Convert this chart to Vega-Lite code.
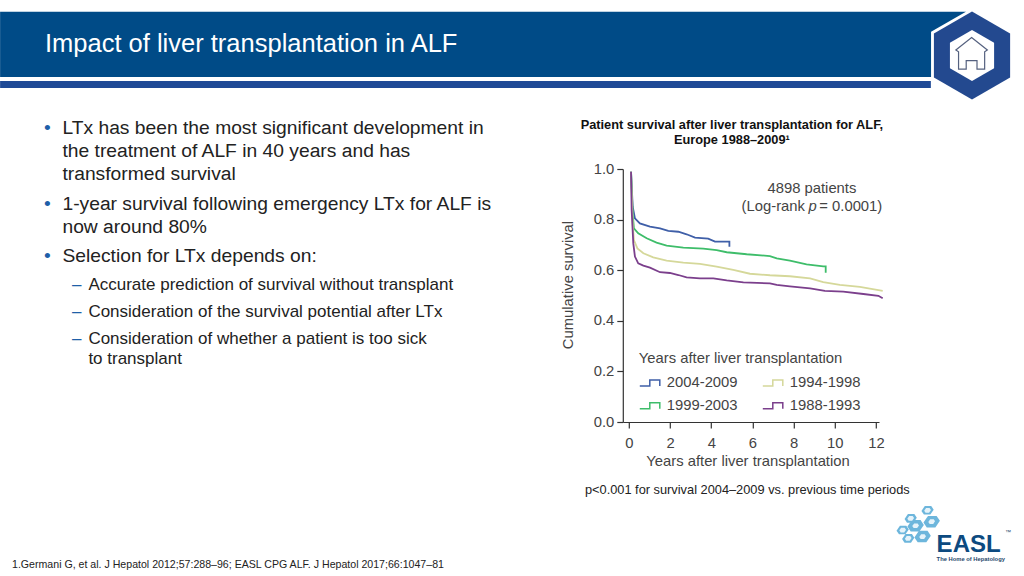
{
"$schema":"https://vega.github.io/schema/vega-lite/v6.json",
"width":256.2,"height":253,
"autosize":"none",
"padding":{"left":622.8,"top":169,"right":145,"bottom":154},
"background":"white",
"config":{"view":{"stroke":null},"font":"Liberation Sans","text":{"font":"Liberation Sans"},
"axis":{"grid":false,"domainColor":"#333333","tickColor":"#333333","labelColor":"#444444","titleColor":"#444444","labelFontSize":14.8,"titleFontSize":14.8,"titleFontWeight":"normal","tickSize":6,"domainWidth":1.2,"tickWidth":1.2,"labelFont":"Liberation Sans","titleFont":"Liberation Sans"}},
"encoding":{
"x":{"field":"year","type":"quantitative","scale":{"domain":[-0.3,12.15],"nice":false,"zero":false},"axis":{"title":"Years after liver transplantation","values":[0,2,4,6,8,10,12],"format":"d","labelPadding":7,"titlePadding":4,"titleX":124.7,"labelOverlap":false,"labelFlush":false}},
"y":{"field":"survival","type":"quantitative","scale":{"domain":[0,1],"nice":false},"axis":{"title":"Cumulative survival","values":[0,0.2,0.4,0.6,0.8,1],"format":".1f","labelPadding":3,"titlePadding":18,"titleY":115.5,"labelOverlap":false}}
},
"layer":[
{"data":{"values":[{"year":-30.56,"year2":16.37,"survival":1.6217,"survival2":1.3636}]},"mark":{"type":"rect","fill":"#004b87"},"encoding":{"x2":{"field":"year2"},"y2":{"field":"survival2"}}},
{"data":{"values":[{"year":-30.56,"year2":14.67,"survival":1.3478,"survival2":1.3202}]},"mark":{"type":"rect","fill":"#1f4a96"},"encoding":{"x2":{"field":"year2"},"y2":{"field":"survival2"}}},
{"data":{"values":[{"year":16.67,"survival":1.4486}]},"mark":{"type":"point","filled":true,"fill":"white","opacity":1,"size":8949,"shape":"M0,-1L.866,-.5L.866,.5L0,1L-.866,.5L-.866,-.5Z"}},
{"data":{"values":[{"year":16.67,"survival":1.4486}]},"mark":{"type":"point","filled":true,"fill":"#23498f","opacity":1,"size":7744,"shape":"M0,-1L.866,-.5L.866,.5L0,1L-.866,.5L-.866,-.5Z"}},
{"data":{"values":[{"year":16.67,"survival":1.4486}]},"mark":{"type":"point","filled":true,"fill":"white","opacity":1,"size":2601,"shape":"M0,-1L.866,-.5L.866,.5L0,1L-.866,.5L-.866,-.5Z"}},
{"data":{"values":[{"year":16.65,"survival":1.4573}]},"mark":{"type":"point","filled":false,"stroke":"#55617f","strokeWidth":1.2,"opacity":1,"size":900,"shape":"M0,-1.05L1.05,-.22L.87,-.1V1.05H.36V.49H-.36V1.05H-.87V-.1L-1.05,-.22Z"}},
{"data":{"values":[
{"year":-28.38,"survival":1.4644,"label":"Impact of liver transplantation in ALF"}
]},"mark":{"type":"text","align":"left","baseline":"alphabetic","fontSize":25.5,"fill":"white"},"encoding":{"text":{"field":"label"}}},
{"data":{"values":[
{"year":-27.53,"survival":1.1383,"label":"LTx has been the most significant development in"},
{"year":-27.53,"survival":1.0474,"label":"the treatment of ALF in 40 years and has"},
{"year":-27.53,"survival":0.9565,"label":"transformed survival"},
{"year":-27.53,"survival":0.8379,"label":"1-year survival following emergency LTx for ALF is"},
{"year":-27.53,"survival":0.7470,"label":"now around 80%"},
{"year":-27.53,"survival":0.6324,"label":"Selection for LTx depends on:"}
]},"mark":{"type":"text","align":"left","baseline":"alphabetic","fontSize":19.25,"fill":"#222222"},"encoding":{"text":{"field":"label"}}},
{"data":{"values":[
{"year":-28.43,"survival":1.1383,"label":"•"},
{"year":-28.43,"survival":0.8379,"label":"•"},
{"year":-28.43,"survival":0.6324,"label":"•"}
]},"mark":{"type":"text","align":"left","baseline":"alphabetic","fontSize":19.25,"fill":"#1f5fa8"},"encoding":{"text":{"field":"label"}}},
{"data":{"values":[
{"year":-26.27,"survival":0.5217,"label":"Accurate prediction of survival without transplant"},
{"year":-26.27,"survival":0.4150,"label":"Consideration of the survival potential after LTx"},
{"year":-26.27,"survival":0.3083,"label":"Consideration of whether a patient is too sick"},
{"year":-26.27,"survival":0.2292,"label":"to transplant"}
]},"mark":{"type":"text","align":"left","baseline":"alphabetic","fontSize":17,"fill":"#222222"},"encoding":{"text":{"field":"label"}}},
{"data":{"values":[
{"year":-27.06,"survival":0.5217,"label":"–"},
{"year":-27.06,"survival":0.4150,"label":"–"},
{"year":-27.06,"survival":0.3083,"label":"–"}
]},"mark":{"type":"text","align":"left","baseline":"alphabetic","fontSize":17,"fill":"#1f5fa8"},"encoding":{"text":{"field":"label"}}},
{"data":{"values":[
{"year":5.0,"survival":1.1581,"label":"Patient survival after liver transplantation for ALF,"},
{"year":5.0,"survival":1.0988,"label":"Europe 1988–2009¹"}
]},"mark":{"type":"text","align":"center","baseline":"alphabetic","fontSize":12.8,"fontWeight":"bold","fill":"#111111"},"encoding":{"text":{"field":"label"}}},
{"data":{"values":[
{"year":-2.14,"survival":-0.2846,"label":"p<0.001 for survival 2004–2009 vs. previous time periods"}
]},"mark":{"type":"text","align":"left","baseline":"alphabetic","fontSize":12.8,"fill":"#222222"},"encoding":{"text":{"field":"label"}}},
{"data":{"values":[
{"year":-29.98,"survival":-0.5771,"label":"1.Germani G, et al. J Hepatol 2012;57:288–96; EASL CPG ALF. J Hepatol 2017;66:1047–81"}
]},"mark":{"type":"text","align":"left","baseline":"alphabetic","fontSize":10.6,"fill":"#222222"},"encoding":{"text":{"field":"label"}}},
{"data":{"values":[
{"year":8.89,"survival":0.905,"label":"4898 patients"}
]},"mark":{"type":"text","align":"center","baseline":"alphabetic","fontSize":14.8,"fill":"#444444"},"encoding":{"text":{"field":"label"}}},
{"data":{"values":[
{"year":8.55,"survival":0.834,"label":"(Log-rank"}
]},"mark":{"type":"text","align":"right","baseline":"alphabetic","fontSize":14.8,"fill":"#444444"},"encoding":{"text":{"field":"label"}}},
{"data":{"values":[
{"year":8.72,"survival":0.834,"label":"p"}
]},"mark":{"type":"text","align":"left","baseline":"alphabetic","fontSize":14.8,"fontStyle":"italic","fill":"#444444"},"encoding":{"text":{"field":"label"}}},
{"data":{"values":[
{"year":9.25,"survival":0.834,"label":"= 0.0001)"}
]},"mark":{"type":"text","align":"left","baseline":"alphabetic","fontSize":14.8,"fill":"#444444"},"encoding":{"text":{"field":"label"}}},
{"data":{"values":[
{"year":14.51,"survival":-0.349,"kind":"small"},{"year":13.69,"survival":-0.381,"kind":"small"},{"year":14.71,"survival":-0.394,"kind":"big"},{"year":13.93,"survival":-0.410,"kind":"big"},{"year":13.30,"survival":-0.427,"kind":"small"},{"year":14.27,"survival":-0.453,"kind":"big"},{"year":13.57,"survival":-0.460,"kind":"small"}
]},"mark":{"type":"point","filled":true,"fill":"#6db6dc","opacity":1,"shape":"M-1,.1L-.45,-.7L.6,-.7L1,-.1L.45,.7L-.6,.7Z"},"encoding":{"size":{"field":"kind","type":"nominal","scale":{"domain":["big","small"],"range":[270,150]},"legend":null}}},
{"data":{"values":[
{"year":14.51,"survival":-0.349},{"year":13.69,"survival":-0.381},{"year":14.71,"survival":-0.394},{"year":13.93,"survival":-0.410},{"year":13.30,"survival":-0.427},{"year":14.27,"survival":-0.453},{"year":13.57,"survival":-0.460}
]},"mark":{"type":"point","filled":true,"fill":"#e6f3fa","opacity":1,"size":45,"shape":"M-1,.1L-.45,-.7L.6,-.7L1,-.1L.45,.7L-.6,.7Z"}},
{"data":{"values":[
{"year":14.95,"survival":-0.5138,"label":"EASL"}
]},"mark":{"type":"text","align":"left","baseline":"alphabetic","fontSize":24,"fontWeight":"bold","fill":"#0d4a80"},"encoding":{"text":{"field":"label"}}},
{"data":{"values":[
{"year":14.95,"survival":-0.548,"label":"The Home of Hepatology"}
]},"mark":{"type":"text","align":"left","baseline":"alphabetic","fontSize":5.8,"fontWeight":"bold","fill":"#27496d"},"encoding":{"text":{"field":"label"}}},
{"data":{"values":[
{"year":18.27,"survival":-0.4427,"label":"™"}
]},"mark":{"type":"text","align":"left","baseline":"alphabetic","fontSize":6,"fill":"#27496d"},"encoding":{"text":{"field":"label"}}},
{"data":{"values":[
{"period":"2004-2009","year":0.10,"survival":0.989},{"period":"2004-2009","year":0.18,"survival":0.851},{"period":"2004-2009","year":0.29,"survival":0.805},{"period":"2004-2009","year":0.53,"survival":0.785},{"period":"2004-2009","year":1.02,"survival":0.772},{"period":"2004-2009","year":1.51,"survival":0.765},{"period":"2004-2009","year":1.91,"survival":0.755},{"period":"2004-2009","year":2.40,"survival":0.752},{"period":"2004-2009","year":2.80,"survival":0.742},{"period":"2004-2009","year":3.21,"survival":0.729},{"period":"2004-2009","year":3.85,"survival":0.725},{"period":"2004-2009","year":4.18,"survival":0.713},{"period":"2004-2009","year":4.88,"survival":0.713},{"period":"2004-2009","year":4.88,"survival":0.693},
{"period":"1999-2003","year":0.10,"survival":0.989},{"period":"1999-2003","year":0.18,"survival":0.825},{"period":"1999-2003","year":0.24,"survival":0.765},{"period":"1999-2003","year":0.45,"survival":0.746},{"period":"1999-2003","year":0.86,"survival":0.726},{"period":"1999-2003","year":1.34,"survival":0.709},{"period":"1999-2003","year":1.83,"survival":0.697},{"period":"1999-2003","year":2.64,"survival":0.689},{"period":"1999-2003","year":3.61,"survival":0.685},{"period":"1999-2003","year":4.26,"survival":0.679},{"period":"1999-2003","year":4.75,"survival":0.671},{"period":"1999-2003","year":5.72,"survival":0.663},{"period":"1999-2003","year":6.85,"survival":0.656},{"period":"1999-2003","year":7.18,"survival":0.647},{"period":"1999-2003","year":7.82,"survival":0.638},{"period":"1999-2003","year":8.63,"survival":0.623},{"period":"1999-2003","year":9.44,"survival":0.615},{"period":"1999-2003","year":9.56,"survival":0.615},{"period":"1999-2003","year":9.56,"survival":0.590},
{"period":"1994-1998","year":0.10,"survival":0.989},{"period":"1994-1998","year":0.18,"survival":0.785},{"period":"1994-1998","year":0.24,"survival":0.719},{"period":"1994-1998","year":0.41,"survival":0.686},{"period":"1994-1998","year":0.70,"survival":0.667},{"period":"1994-1998","year":1.18,"survival":0.651},{"period":"1994-1998","year":1.83,"survival":0.638},{"period":"1994-1998","year":2.64,"survival":0.630},{"period":"1994-1998","year":3.45,"survival":0.625},{"period":"1994-1998","year":4.26,"survival":0.614},{"period":"1994-1998","year":5.07,"survival":0.601},{"period":"1994-1998","year":5.88,"survival":0.586},{"period":"1994-1998","year":6.85,"survival":0.580},{"period":"1994-1998","year":7.82,"survival":0.576},{"period":"1994-1998","year":8.80,"survival":0.568},{"period":"1994-1998","year":9.44,"survival":0.553},{"period":"1994-1998","year":10.25,"survival":0.542},{"period":"1994-1998","year":11.22,"survival":0.534},{"period":"1994-1998","year":12.33,"survival":0.518},
{"period":"1988-1993","year":0.10,"survival":0.989},{"period":"1988-1993","year":0.13,"survival":0.838},{"period":"1988-1993","year":0.21,"survival":0.706},{"period":"1988-1993","year":0.29,"survival":0.654},{"period":"1988-1993","year":0.45,"survival":0.627},{"period":"1988-1993","year":0.70,"survival":0.618},{"period":"1988-1993","year":1.02,"survival":0.610},{"period":"1988-1993","year":1.51,"survival":0.592},{"period":"1988-1993","year":1.99,"survival":0.589},{"period":"1988-1993","year":2.40,"survival":0.581},{"period":"1988-1993","year":2.80,"survival":0.572},{"period":"1988-1993","year":3.45,"survival":0.568},{"period":"1988-1993","year":4.10,"survival":0.568},{"period":"1988-1993","year":4.75,"survival":0.560},{"period":"1988-1993","year":5.56,"survival":0.552},{"period":"1988-1993","year":6.85,"survival":0.548},{"period":"1988-1993","year":7.18,"survival":0.542},{"period":"1988-1993","year":7.82,"survival":0.536},{"period":"1988-1993","year":8.80,"survival":0.528},{"period":"1988-1993","year":9.52,"survival":0.518},{"period":"1988-1993","year":10.41,"survival":0.515},{"period":"1988-1993","year":11.39,"survival":0.506},{"period":"1988-1993","year":12.12,"survival":0.499},{"period":"1988-1993","year":12.33,"survival":0.489}
]},
"mark":{"type":"line","strokeWidth":1.8,"interpolate":"linear"},
"encoding":{"color":{"field":"period","type":"nominal","sort":null,
"scale":{"domain":["2004-2009","1999-2003","1994-1998","1988-1993"],"range":["#3f5fa8","#3ebd6a","#d5d89a","#7b3f8c"]},
"legend":{"title":"Years after liver transplantation","orient":"none","legendX":16,"legendY":182,"columns":2,"symbolType":"M-1,.3H0V-.3H1V.3","symbolSize":400,"symbolStrokeWidth":1.5,"labelFontSize":14.8,"titleFontSize":14.8,"titleFontWeight":"normal","titleColor":"#444444","labelColor":"#444444","labelFont":"Liberation Sans","titleFont":"Liberation Sans","columnPadding":22,"rowPadding":5,"labelOffset":6,"titlePadding":6,"titleLimit":300,"labelLimit":120}}}
}
]
}
